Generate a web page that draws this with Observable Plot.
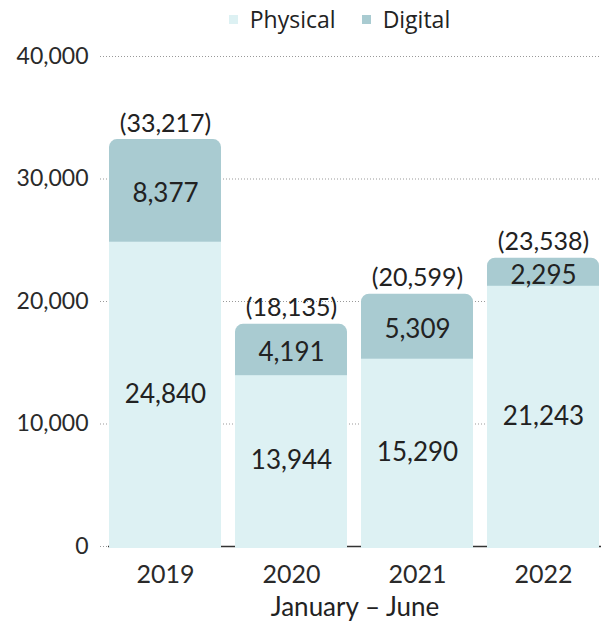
<!DOCTYPE html>
<html>
<head>
<meta charset="utf-8">
<script src="https://cdn.jsdelivr.net/npm/d3@7"></script>
<script src="https://cdn.jsdelivr.net/npm/@observablehq/plot@0.6"></script>
<style>
  body { margin: 0; background: #fff; }
  #legend { height: 38px; display: flex; justify-content: center; align-items: center; gap: 26px;
    font-family: "Open Sans", sans-serif; font-size: 23px; color: #222; padding-left: 78px; box-sizing: border-box; }
  #legend span.sw { display: inline-block; width: 9px; height: 9px; margin-right: 12px; vertical-align: middle; position: relative; top: -2px; }
</style>
</head>
<body>
<div id="legend"></div>
<div id="chart"></div>
<script>
const years = ["2019", "2020", "2021", "2022"];
const physical = [24840, 13944, 15290, 21243];
const digital = [8377, 4191, 5309, 2295];
const seriesNames = ["Physical", "Digital"];
const seriesColors = ["#ddf1f3", "#a9cbd1"];
const yTicks = [0, 10000, 20000, 30000, 40000];
const xTitle = "January – June";

const rows = years.map((y, i) => ({
  year: y, physical: physical[i], digital: digital[i], total: physical[i] + digital[i]
}));
const fmt = d3.format(",");

const legend = document.getElementById("legend");
seriesNames.forEach((n, i) => {
  const d = document.createElement("div");
  d.innerHTML = `<span class="sw" style="background:${seriesColors[i]}"></span>${n}`;
  legend.appendChild(d);
});

const chart = Plot.plot({
  width: 601,
  height: 584,
  marginLeft: 108,
  marginRight: 0,
  marginTop: 18,
  marginBottom: 76,
  style: { fontFamily: "Lato, sans-serif", fontSize: "23px", color: "#2a2a2a", background: "#fff" },
  x: { domain: years, paddingInner: 0.11, paddingOuter: 0 },
  y: { domain: [0, 40000], ticks: yTicks, label: null },
  marks: [
    Plot.ruleY(yTicks, { stroke: "#999", strokeDasharray: "1,2", strokeWidth: 1, insetLeft: -8 }),
    Plot.ruleY([0], { stroke: "#333", strokeWidth: 1.5 }),
    Plot.barY(rows, { x: "year", y1: 0, y2: "total", fill: seriesColors[1], rx: 8, insetBottom: -2 }),
    Plot.barY(rows, { x: "year", y1: 0, y2: "physical", fill: seriesColors[0], insetBottom: -2 }),
    Plot.text(rows, { x: "year", y: d => d.physical + d.digital / 2, text: d => fmt(d.digital), fontSize: 26, fill: "#222", dy: 3 }),
    Plot.text(rows, { x: "year", y: d => d.physical / 2, text: d => fmt(d.physical), fontSize: 26, fill: "#222" }),
    Plot.text(rows, { x: "year", y: "total", text: d => `(${fmt(d.total)})`, dy: -16, fontSize: 25, fill: "#222" }),
    Plot.axisY({ ticks: yTicks, tickSize: 0, tickPadding: 20, tickFormat: d => fmt(d), fontSize: 23, label: null }),
    Plot.axisX({ tickSize: 0, tickPadding: 19, fontSize: 25, label: null }),
    Plot.text([xTitle], { frameAnchor: "bottom", lineAnchor: "middle", text: d => d, dy: 61, fontSize: 26, fill: "#222" })
  ]
});
document.getElementById("chart").appendChild(chart);
</script>
</body>
</html>
